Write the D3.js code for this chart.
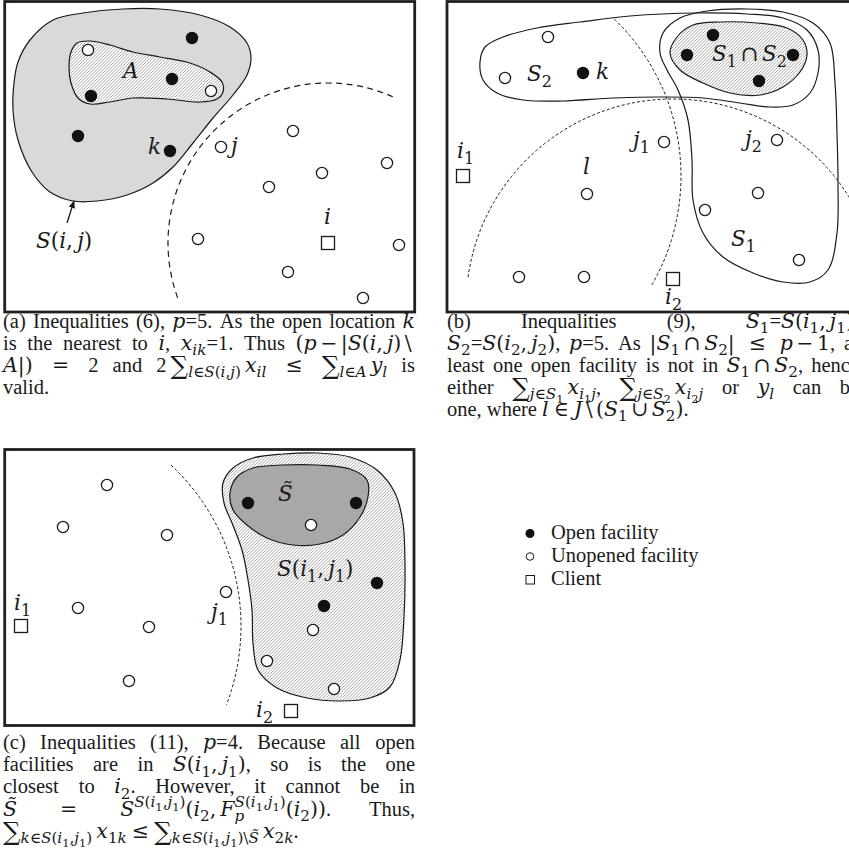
<!DOCTYPE html>
<html>
<head>
<meta charset="utf-8">
<script src="https://cdn.jsdelivr.net/npm/d3@7"></script>
<style>
  body { margin: 0; background: #fff; }
  svg { display: block; }
</style>
</head>
<body>
<script>
// ---- panel (a): local coords, px from panel origin ----
var openA = [[192,38],[172,79],[91,96],[78,136],[170,151]];
var unopenedA = [[88,50],[211,91],[221,147],[293,131],[387,163],[322,173],[269,187],[198,239],[399,245],[288,272],[363,298]];
var clientsA = [[328,243]];
var blobSij = [[13,110],[14,83],[18,62],[30,40],[53,20],[83,13],[123,9],[160,9],[200,15],[230,27],[247,43],[251,58],[247,75],[233,95],[213,118],[193,143],[173,167],[153,183],[127,195],[97,201],[73,201],[50,192],[32,172],[18,140]];
var blobA = [[69,67],[71,52],[77,43],[90,41],[110,45],[133,52],[160,57],[190,63],[210,72],[222,82],[223,92],[217,99],[200,102],[167,99],[133,98],[110,102],[90,104],[78,98],[71,83]];
var arcA = [{cx:328, cy:243, r:160, a0:-200, a1:-65}];
var labelsA = [
  {t:"$A$", x:123, y:78}, {t:"$k$", x:148, y:154}, {t:"$j$", x:231, y:153},
  {t:"$i$", x:324, y:224}, {t:"$S(i,j)$", x:36, y:248}
];

// ---- panel (b) ----
var openB = [[283,35],[257,55],[363,55],[329,81],[153,73]];
var unopenedB = [[118,37],[75,78],[234,142],[347,140],[157,194],[328,193],[275,210],[369,260],[89,277],[154,277]];
var clientsB = [[33,176],[243,279]];
var blobS2 = [[50,62],[55,47],[73,37],[107,28],[150,22],[200,16],[267,13],[317,14],[353,18],[377,30],[388,50],[388,73],[380,93],[363,105],[340,107],[310,103],[273,98],[233,97],[183,98],[133,101],[93,100],[67,93],[53,80]];
var blobS1 = [[230,53],[233,33],[250,18],[277,11],[317,9],[353,12],[383,23],[400,43],[405,83],[407,133],[408,183],[407,233],[398,270],[380,282],[353,282],[323,273],[293,257],[273,233],[263,200],[262,160],[258,120],[248,90],[237,70]];
var blobS12 = [[240,53],[247,37],[263,25],[290,22],[327,23],[357,28],[373,40],[377,55],[370,72],[353,87],[330,95],[300,93],[273,83],[250,70]];
var arcsB = [{cx:33, cy:176, r:218, a0:-46, a1:30}, {cx:243, cy:306, r:207, a0:-172, a1:-28}];
var labelsB = [
  {t:"$S_2$", x:97, y:81}, {t:"$k$", x:166, y:79}, {t:"$S_1∩S_2$", x:282, y:61},
  {t:"$j_1$", x:203, y:147}, {t:"$j_2$", x:315, y:146}, {t:"$i_1$", x:27, y:158},
  {t:"$l$", x:153, y:174}, {t:"$S_1$", x:301, y:246}, {t:"$i_2$", x:235, y:304}
];

// ---- panel (c) ----
var openC = [[248,53],[356,53],[377,133],[324,156]];
var unopenedC = [[107,35],[63,77],[167,85],[226,142],[78,158],[149,177],[311,75],[313,180],[267,211],[334,239],[129,231]];
var clientsC = [[21,176],[291,261]];
var blobSi1j1 = [[223,33],[233,18],[253,8],[283,4],[317,3],[350,7],[377,20],[395,43],[403,73],[405,117],[404,167],[400,210],[390,237],[370,248],[340,251],[307,248],[277,238],[258,220],[253,193],[252,160],[248,130],[242,100],[232,73],[224,53]];
var blobStilde = [[230,43],[237,27],[253,18],[283,15],[317,15],[350,19],[367,30],[368,47],[360,67],[343,85],[320,94],[293,95],[267,88],[247,75],[233,60]];
var arcC = [{cx:21, cy:176, r:220, a0:-47, a1:21}];
var labelsC = [
  {t:"$S̃$", x:278, y:51}, {t:"$S(i_1,j_1)$", x:277, y:126}, {t:"$i_1$", x:14, y:160},
  {t:"$j_1$", x:211, y:169}, {t:"$i_2$", x:256, y:267}
];

// ---- captions ----
var capA = [
  "(a) Inequalities (6), $p$=5. As the open location $k$",
  "is the nearest to $i$, $x_{ik}$=1. Thus $(p−|S(i,j)\\$",
  "$A|)$ $=$ 2 and 2~$∑_{l∈S(i,j)}~x_{il}$ $≤$ $∑_{l∈A}~y_l$ is",
  "valid."
];
var capB = [
  "(b) Inequalities (9), $S_1$=$S(i_1,j_1)$,",
  "$S_2$=$S(i_2,j_2)$, $p$=5. As $|S_1∩S_2|$ $≤$ $p−1$, at",
  "least one open facility is not in $S_1∩S_2$, hence",
  "either $∑_{j∈S_1}~x_{i_1j}$, $∑_{j∈S_2}~x_{i_2j}$ or $y_l$ can be",
  "one, where $l∈J\\(S_1∪S_2)$."
];
var capC = [
  "(c) Inequalities (11), $p$=4. Because all open",
  "facilities are in $S(i_1,j_1)$, so is the one",
  "closest to $i_2$. However, it cannot be in",
  "$S̃$ $=$ $S^{S(i_1,j_1)}(i_2,F_p^{S(i_1,j_1)}(i_2))$. Thus,",
  "$∑_{k∈S(i_1,j_1)}~x_{1k}≤∑_{k∈S(i_1,j_1)\\S̃}~x_{2k}$."
];

var legendItems = ["Open facility", "Unopened facility", "Client"];
var legendKinds = ["open", "unopened", "client"];

// -------------------------------------------------------------
var FONT = "'Liberation Serif','Times New Roman',serif";
var MATH = "'DejaVu Serif',serif";
var MATH_K = 1.0;
var INK = "#1a1a1a";
var SIZES = [1, 0.74, 0.56];
var BIN = "−∩∪\\";      // binary ops: medium space
var REL = "=≤∈";        // relations: thick space

var svg = d3.select("body").append("svg").attr("width", 849).attr("height", 861);
var defs = svg.append("defs");

defs.append("pattern").attr("id", "hatch").attr("patternUnits", "userSpaceOnUse")
    .attr("width", 3.2).attr("height", 3.2)
  .append("path").attr("d", "M-0.8,0.8L0.8,-0.8M0,3.2L3.2,0M2.4,4L4,2.4")
    .attr("stroke", "#6f6f6f").attr("stroke-width", 0.6);

defs.append("marker").attr("id", "arr").attr("viewBox", "0 0 10 10")
    .attr("refX", 9).attr("refY", 5).attr("markerWidth", 6).attr("markerHeight", 6)
    .attr("orient", "auto")
  .append("path").attr("d", "M0,1L10,5L0,9z").attr("fill", INK);

// tiny math-ish text parser: $..$ math, _ sub, ^ sup, ~ thin space
function parseRich(str) {
  var words = [[]], math = false, gid = 0;
  function add(ch, lvl, shift, grp) {
    var w = words[words.length - 1];
    var last = w[w.length - 1];
    if (/[\u0300-\u036f]/.test(ch) && last) { last.t += ch; return; }
    var it = math && /[A-Za-z]/.test(ch);
    var big = ch === "∑";
    if (last && !big && !last.big && last.it === it && last.m === math && last.lvl === lvl && last.grp === grp) { last.t += ch; return; }
    w.push({t: ch, it: it, m: math, lvl: lvl, shift: shift, grp: grp, back: null, big: big});
  }
  function run(s, lvl, shift, grp) {
    var i = 0, prevScript = null, prevGrp = null;
    while (i < s.length) {
      var c = s[i];
      if (c === "$") { math = !math; i++; continue; }
      if (c === " ") { words.push([]); i++; prevScript = null; continue; }
      if (c === "~") { add("\u2009", lvl, shift, grp); i++; continue; }
      if (math && (c === "_" || c === "^")) {
        i++;
        var sub;
        if (s[i] === "{") {
          var d = 1, j = i + 1;
          while (d > 0) { if (s[j] === "{") d++; else if (s[j] === "}") d--; j++; }
          sub = s.slice(i + 1, j - 1); i = j;
        } else { sub = s[i]; i++; }
        var fs = SIZES[lvl];
        var sh = shift + (c === "_" ? 0.26 : -0.42) * fs;
        var id = ++gid;
        var back = (prevScript && prevScript !== c) ? prevGrp : null;
        var w = words[words.length - 1];
        var n0 = w.length;
        run(sub, Math.min(lvl + 1, 2), sh, id);
        if (back && w.length > n0) w[n0].back = back;
        prevScript = c; prevGrp = id;
        continue;
      }
      var spaced = math && lvl === 0 && (BIN.indexOf(c) >= 0 || REL.indexOf(c) >= 0);
      if (spaced) add(REL.indexOf(c) >= 0 ? "\u2005" : "\u2006", lvl, shift, grp);
      add(c, lvl, shift, grp);
      if (spaced) add(REL.indexOf(c) >= 0 ? "\u2005" : "\u2006", lvl, shift, grp);
      if (math && lvl === 0 && c === ",") add("\u2009", lvl, shift, grp);
      prevScript = null;
      i++;
    }
  }
  run(str, 0, 0, 0);
  return words.filter(function(w) { return w.length; });
}

function drawWord(parent, segs, size) {
  var g = parent.append("g");
  var t = g.append("text").attr("font-family", FONT).attr("fill", INK);
  var cur = 0, nodes = [];
  segs.forEach(function(s) {
    var sh = (s.shift + (s.big ? 0.1 : 0)) * size;
    var fs = size * SIZES[s.lvl] * (s.big ? 1.2 : 1) * (s.m ? MATH_K : 1);
    var ts = t.append("tspan").text(s.t)
      .attr("font-size", fs)
      .attr("font-family", s.m ? MATH : FONT)
      .attr("font-style", s.it ? "italic" : "normal")
      .attr("dy", sh - cur);
    cur = sh;
    nodes.push({s: s, n: ts.node()});
  });
  nodes.forEach(function(d) {
    if (d.s.back) {
      var w = d3.sum(nodes.filter(function(e) { return e.s.grp === d.s.back; }),
                     function(e) { return e.n.getComputedTextLength(); });
      d3.select(d.n).attr("dx", -w);
    }
  });
  var bb = t.node().getBBox();
  return {g: g, w: bb.x + bb.width};
}

function drawParagraph(lines, x0, width, y0, step, size) {
  var g = svg.append("g");
  lines.forEach(function(line, li) {
    var ws = parseRich(line).map(function(w) { return drawWord(g, w, size); });
    var total = d3.sum(ws, function(d) { return d.w; });
    var last = li === lines.length - 1;
    var gap = (last || ws.length < 2) ? size * 0.25 : (width - total) / (ws.length - 1);
    var x = x0;
    ws.forEach(function(d) {
      d.g.attr("transform", "translate(" + x + "," + (y0 + li * step) + ")");
      x += d.w + gap;
    });
  });
}

function drawPanel(p) {
  var x = d3.scaleLinear().domain([0, 420]).range([p.ox, p.ox + 420]);
  var y = d3.scaleLinear().domain([0, 420]).range([p.oy, p.oy + 420]);
  var k = x(1) - x(0);
  var clipId = "clip" + p.id;
  defs.append("clipPath").attr("id", clipId).append("rect")
    .attr("x", p.frame[0]).attr("y", p.frame[1])
    .attr("width", p.frame[2] - p.frame[0]).attr("height", p.frame[3] - p.frame[1]);
  var g = svg.append("g").attr("clip-path", "url(#" + clipId + ")");
  var line = d3.line().x(function(d) { return x(d[0]); }).y(function(d) { return y(d[1]); })
    .curve(d3.curveCatmullRomClosed.alpha(0.5));

  p.blobs.forEach(function(b) {
    if (b.hatch) {
      g.append("path").attr("d", line(b.pts)).attr("fill", b.fill || "#fff");
      g.append("path").attr("d", line(b.pts)).attr("fill", "url(#hatch)")
        .attr("stroke", INK).attr("stroke-width", 1.2);
    } else {
      g.append("path").attr("d", line(b.pts)).attr("fill", b.fill || "none")
        .attr("stroke", INK).attr("stroke-width", 1.2);
    }
  });

  p.arcs.forEach(function(a) {
    var path = d3.path();
    path.arc(x(a.cx), y(a.cy), a.r * k, a.a0 * Math.PI / 180, a.a1 * Math.PI / 180);
    g.append("path").attr("d", path.toString()).attr("fill", "none")
      .attr("stroke", INK).attr("stroke-width", p.dashW).attr("stroke-dasharray", p.dash);
  });

  g.selectAll(".uo").data(p.unopened).enter().append("circle")
    .attr("cx", function(d) { return x(d[0]); }).attr("cy", function(d) { return y(d[1]); })
    .attr("r", 5.6).attr("fill", "#fff").attr("stroke", INK).attr("stroke-width", 1.3);
  g.selectAll(".op").data(p.open).enter().append("circle")
    .attr("cx", function(d) { return x(d[0]); }).attr("cy", function(d) { return y(d[1]); })
    .attr("r", 6.2).attr("fill", "#111");
  g.selectAll(".cl").data(p.clients).enter().append("rect")
    .attr("x", function(d) { return x(d[0]) - 6.5; }).attr("y", function(d) { return y(d[1]) - 6.5; })
    .attr("width", 13).attr("height", 13).attr("fill", "#fff").attr("stroke", INK).attr("stroke-width", 1.3);

  p.labels.forEach(function(l) {
    var w = drawWord(g, parseRich(l.t)[0], 21.5);
    w.g.attr("transform", "translate(" + x(l.x) + "," + y(l.y) + ")");
  });

  if (p.arrow) {
    g.append("line").attr("x1", x(p.arrow[0][0])).attr("y1", y(p.arrow[0][1]))
      .attr("x2", x(p.arrow[1][0])).attr("y2", y(p.arrow[1][1]))
      .attr("stroke", INK).attr("stroke-width", 1.3).attr("marker-end", "url(#arr)");
  }

  svg.append("rect").attr("x", p.frame[0]).attr("y", p.frame[1])
    .attr("width", p.frame[2] - p.frame[0]).attr("height", p.frame[3] - p.frame[1])
    .attr("fill", "none").attr("stroke", "#231f20").attr("stroke-width", 2.8);
}

drawPanel({
  id: "a", ox: 0, oy: 0, frame: [4.7, 1.5, 414.7, 312],
  blobs: [{pts: blobSij, fill: "#d9d9d9"}, {pts: blobA, hatch: true}],
  arcs: arcA, dash: "6,4.5", dashW: 1.2,
  open: openA, unopened: unopenedA, clients: clientsA, labels: labelsA,
  arrow: [[67, 223], [74, 201]]
});
drawPanel({
  id: "b", ox: 430, oy: 0, frame: [447, 1.5, 870, 312],
  blobs: [{pts: blobS2}, {pts: blobS1}, {pts: blobS12, hatch: true}],
  arcs: arcsB, dash: "3,2.2", dashW: 1,
  open: openB, unopened: unopenedB, clients: clientsB, labels: labelsB
});
drawPanel({
  id: "c", ox: 0, oy: 450, frame: [4.7, 449.5, 414, 725.5],
  blobs: [{pts: blobSi1j1, hatch: true}, {pts: blobStilde, fill: "#a8a8a8"}],
  arcs: arcC, dash: "3,2.2", dashW: 1,
  open: openC, unopened: unopenedC, clients: clientsC, labels: labelsC
});

drawParagraph(capA, 3, 412, 328, 22, 20.5);
drawParagraph(capB, 447, 412, 328, 22, 20.5);
drawParagraph(capC, 3, 412, 749, 22.2, 20.5);

// legend
var lg = svg.append("g");
var ly = d3.scaleBand().domain(legendItems).range([522, 591]);
legendItems.forEach(function(name, i) {
  var cy = ly(name) + ly.bandwidth() / 2;
  var kind = legendKinds[i];
  if (kind === "open") lg.append("circle").attr("cx", 530).attr("cy", cy).attr("r", 4.5).attr("fill", "#111");
  if (kind === "unopened") lg.append("circle").attr("cx", 530).attr("cy", cy).attr("r", 3.8)
    .attr("fill", "#fff").attr("stroke", INK).attr("stroke-width", 1);
  if (kind === "client") lg.append("rect").attr("x", 526).attr("y", cy - 4).attr("width", 8.5).attr("height", 8.5)
    .attr("fill", "#fff").attr("stroke", INK).attr("stroke-width", 1);
  lg.append("text").attr("x", 551).attr("y", cy + 5).attr("font-family", FONT)
    .attr("font-size", 20.5).attr("fill", INK).text(name);
});
</script>
</body>
</html>
